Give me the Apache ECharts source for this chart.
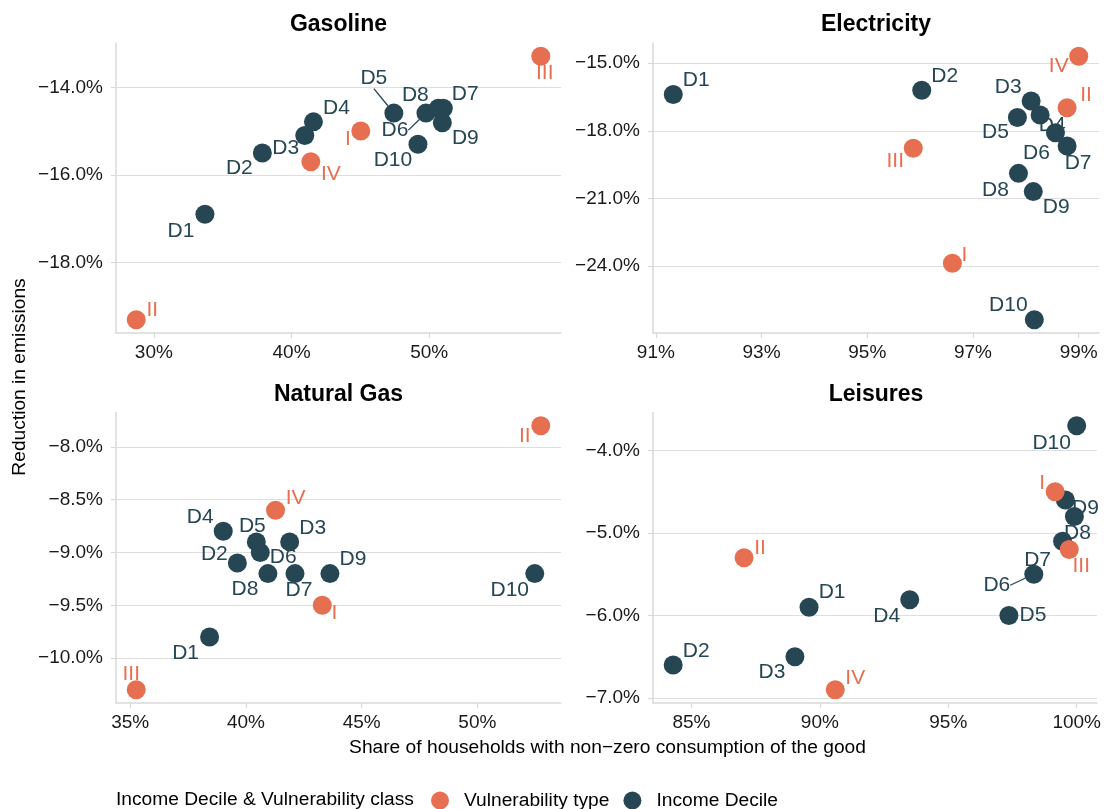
<!DOCTYPE html>
<html>
<head>
<meta charset="utf-8">
<title>Reduction in emissions</title>
<script src="https://cdn.jsdelivr.net/npm/echarts@6.0.0/dist/echarts.min.js"></script>
<style>
  html, body { margin: 0; padding: 0; background: #fff; }
  #chart { width: 1104px; height: 809px; }
</style>
</head>
<body>
<div id="chart"></div>
<script>
  // categories
  const deciles = ['D1', 'D2', 'D3', 'D4', 'D5', 'D6', 'D7', 'D8', 'D9', 'D10'];
  const vulnClasses = ['I', 'II', 'III', 'IV'];

  // Gasoline
  const gasDecShare = [33.71, 37.88, 40.96, 41.59, 47.43, 49.76, 51.02, 50.66, 50.95, 49.18];
  const gasDecReduction = [-16.9, -15.5, -15.1, -14.79, -14.59, -14.59, -14.48, -14.48, -14.81, -15.3];
  const gasVulShare = [45.03, 28.72, 58.1, 41.4];
  const gasVulReduction = [-15.0, -19.31, -13.29, -15.7];
  const gasXTicks = [30, 40, 50];
  const gasYTicks = [-14, -16, -18];

  // Electricity
  const elecDecShare = [91.33, 96.03, 98.10, 98.27, 97.84, 98.56, 98.78, 97.86, 98.14, 98.16];
  const elecDecReduction = [-16.39, -16.2, -16.68, -17.30, -17.41, -18.09, -18.68, -19.89, -20.70, -26.39];
  const elecVulShare = [96.61, 98.78, 95.87, 99.0];
  const elecVulReduction = [-23.88, -16.98, -18.78, -14.69];
  const elecXTicks = [91, 93, 95, 97, 99];
  const elecYTicks = [-15, -18, -21, -24];

  // Natural Gas
  const ngDecShare = [38.43, 39.63, 41.89, 39.02, 40.45, 40.62, 42.12, 40.95, 43.63, 52.48];
  const ngDecReduction = [-9.8, -9.1, -8.9, -8.8, -8.9, -9.0, -9.2, -9.2, -9.2, -9.2];
  const ngVulShare = [43.30, 52.74, 35.26, 41.28];
  const ngVulReduction = [-9.5, -7.8, -10.3, -8.6];
  const ngXTicks = [35, 40, 45, 50];
  const ngYTicks = [-8, -8.5, -9, -9.5, -10];

  // Leisures
  const leiDecShare = [89.58, 84.29, 89.03, 93.50, 97.36, 98.33, 99.45, 99.91, 99.56, 100.0];
  const leiDecReduction = [-5.9, -6.6, -6.5, -5.81, -6.0, -5.5, -5.1, -4.8, -4.6, -3.7];
  const leiVulShare = [99.16, 87.05, 99.71, 90.60];
  const leiVulReduction = [-4.5, -5.3, -5.2, -6.9];
  const leiXTicks = [85, 90, 95, 100];
  const leiYTicks = [-4, -5, -6, -7];

  // label placement (px offset from point, third flag = draw segment)
  const gasNudge = {
    D1: [-24, 17], D2: [-23, 15], D3: [-19, 13], D4: [23, -14], D5: [-20, -35, 1],
    D6: [-31, 17, 1], D7: [22, -14], D8: [-23, -13], D9: [23, 15], D10: [-25, 16],
    I: [-13, 8], II: [16, -10], III: [4, 17], IV: [20, 12]
  };
  const elecNudge = {
    D1: [23, -14], D2: [23, -14], D3: [-23, -14], D4: [12, 10], D5: [-22, 15],
    D6: [-19, 20], D7: [11, 17], D8: [-23, 17], D9: [23, 16], D10: [-26, -15],
    I: [12, -8], II: [19, -13], III: [-18, 13], IV: [-20, 10]
  };
  const ngNudge = {
    D1: [-24, 16], D2: [-23, -9], D3: [23, -14], D4: [-23, -14], D5: [-4, -16],
    D6: [23, 5], D7: [4, 17], D8: [-23, 16], D9: [23, -14], D10: [-25, 17],
    I: [12, 8], II: [-16, 10], III: [-5, -16], IV: [20, -12]
  };
  const leiNudge = {
    D1: [23, -15], D2: [23, -14], D3: [-23, 15], D4: [-23, 16], D5: [24, 0],
    D6: [-37, 11, 1], D7: [-25, 19], D8: [3, 17], D9: [20, 8], D10: [-25, 17],
    I: [-13, -9], II: [16, -10], III: [12, 17], IV: [20, -12]
  };

  const ORANGE = '#E76F51';
  const DARK = '#264653';
  const FONT = '"Liberation Sans", Arial, Helvetica, sans-serif';
  const TXT = 19.2;

  const panels = [
    {title: 'Gasoline', grid: {left: 116, top: 43, width: 445, height: 290},
     ds: gasDecShare, dr: gasDecReduction, vs: gasVulShare, vr: gasVulReduction,
     xt: gasXTicks, yt: gasYTicks, nudge: gasNudge},
    {title: 'Electricity', grid: {left: 653, top: 43, width: 446, height: 290},
     ds: elecDecShare, dr: elecDecReduction, vs: elecVulShare, vr: elecVulReduction,
     xt: elecXTicks, yt: elecYTicks, nudge: elecNudge},
    {title: 'Natural Gas', grid: {left: 116, top: 412.5, width: 445, height: 290.5},
     ds: ngDecShare, dr: ngDecReduction, vs: ngVulShare, vr: ngVulReduction,
     xt: ngXTicks, yt: ngYTicks, nudge: ngNudge},
    {title: 'Leisures', grid: {left: 653, top: 412.5, width: 446, height: 290.5},
     ds: leiDecShare, dr: leiDecReduction, vs: leiVulShare, vr: leiVulReduction,
     xt: leiXTicks, yt: leiYTicks, nudge: leiNudge}
  ];

  // ggplot-like 5% expansion
  function expand(a, b) {
    const all = a.concat(b);
    const lo = Math.min.apply(null, all), hi = Math.max.apply(null, all);
    const pad = (hi - lo) * 0.05;
    return [lo - pad, hi + pad];
  }

  function points(names, xs, ys, nudge) {
    return names.map((n, i) => {
      const nd = nudge[n] || [0, 0];
      return {
        name: n,
        value: [xs[i], ys[i]],
        label: {offset: [nd[0], nd[1]]},
        labelLine: {show: !!nd[2]}
      };
    });
  }

  const grids = [], xAxes = [], yAxes = [], series = [], graphics = [];
  const axisGray = '#d9d9d9';

  panels.forEach((p, k) => {
    grids.push(Object.assign({containLabel: false}, p.grid));
    const xr = expand(p.ds, p.vs), yr = expand(p.dr, p.vr);
    xAxes.push({
      type: 'value', gridIndex: k, min: xr[0], max: xr[1],
      axisLine: {show: true, onZero: false, lineStyle: {color: axisGray, width: 1.5}},
      axisTick: {show: true, length: 5, lineStyle: {color: axisGray, width: 1.2}, customValues: p.xt},
      axisLabel: {customValues: p.xt, margin: 10, color: '#1a1a1a', fontSize: 19, fontFamily: FONT,
                  formatter: v => v + '%'},
      splitLine: {show: false}
    });
    yAxes.push({
      type: 'value', gridIndex: k, min: yr[0], max: yr[1],
      axisLine: {show: true, onZero: false, lineStyle: {color: axisGray, width: 1.5}},
      axisTick: {show: true, length: 5, lineStyle: {color: axisGray, width: 1.2}, customValues: p.yt},
      axisLabel: {customValues: p.yt, margin: 13, color: '#1a1a1a', fontSize: 19, fontFamily: FONT,
                  formatter: v => (v < 0 ? '\u2212' : '') + Math.abs(v).toFixed(1) + '%'},
      splitLine: {show: true, lineStyle: {color: '#dedede', width: 1.2}}
    });
    const common = {
      type: 'scatter', xAxisIndex: k, yAxisIndex: k, symbol: 'circle', symbolSize: 19,
      emphasis: {disabled: true},
      label: {show: true, position: 'inside', formatter: '{b}', fontSize: 21, fontFamily: FONT,
              align: 'center', verticalAlign: 'middle', opacity: 1},
      labelLine: {lineStyle: {width: 1.3, opacity: 1}}
    };
    series.push(Object.assign({}, common, {
      name: 'Income Decile', z: 2,
      itemStyle: {color: DARK, opacity: 1},
      label: Object.assign({}, common.label, {color: DARK}),
      data: points(deciles, p.ds, p.dr, p.nudge)
    }));
    series.push(Object.assign({}, common, {
      name: 'Vulnerability type', z: 3,
      itemStyle: {color: ORANGE, opacity: 1},
      label: Object.assign({}, common.label, {color: ORANGE}),
      data: points(vulnClasses, p.vs, p.vr, p.nudge)
    }));
    graphics.push({
      type: 'text', x: p.grid.left + p.grid.width / 2, y: p.grid.top - 18,
      style: {text: p.title, font: 'bold 23px ' + FONT, fill: '#000',
              align: 'center', verticalAlign: 'middle'}
    });
  });

  graphics.push({
    type: 'text', x: 607.5, y: 747.5,
    style: {text: 'Share of households with non\u2212zero consumption of the good',
            font: TXT + 'px ' + FONT, fill: '#000', align: 'center', verticalAlign: 'middle'}
  });
  graphics.push({
    type: 'text', x: 20, y: 377, rotation: Math.PI / 2,
    style: {text: 'Reduction in emissions', font: TXT + 'px ' + FONT, fill: '#000',
            align: 'center', verticalAlign: 'middle'}
  });
  graphics.push({
    type: 'text', x: 116, y: 800,
    style: {text: 'Income Decile & Vulnerability class', font: TXT + 'px ' + FONT, fill: '#000',
            align: 'left', verticalAlign: 'middle'}
  });

  const chart = echarts.init(document.getElementById('chart'), null, {renderer: 'canvas'});
  chart.setOption({
    animation: false,
    backgroundColor: '#fff',
    grid: grids,
    xAxis: xAxes,
    yAxis: yAxes,
    series: series,
    graphic: graphics,
    legend: {
      data: ['Vulnerability type', 'Income Decile'],
      left: 431, top: 791, padding: 0, orient: 'horizontal',
      icon: 'circle', itemWidth: 18, itemHeight: 18, itemGap: 14,
      selectedMode: false,
      itemStyle: {opacity: 1},
      textStyle: {fontSize: TXT, fontFamily: FONT, color: '#000', padding: [0, 0, 0, 10]}
    }
  });
</script>
</body>
</html>
